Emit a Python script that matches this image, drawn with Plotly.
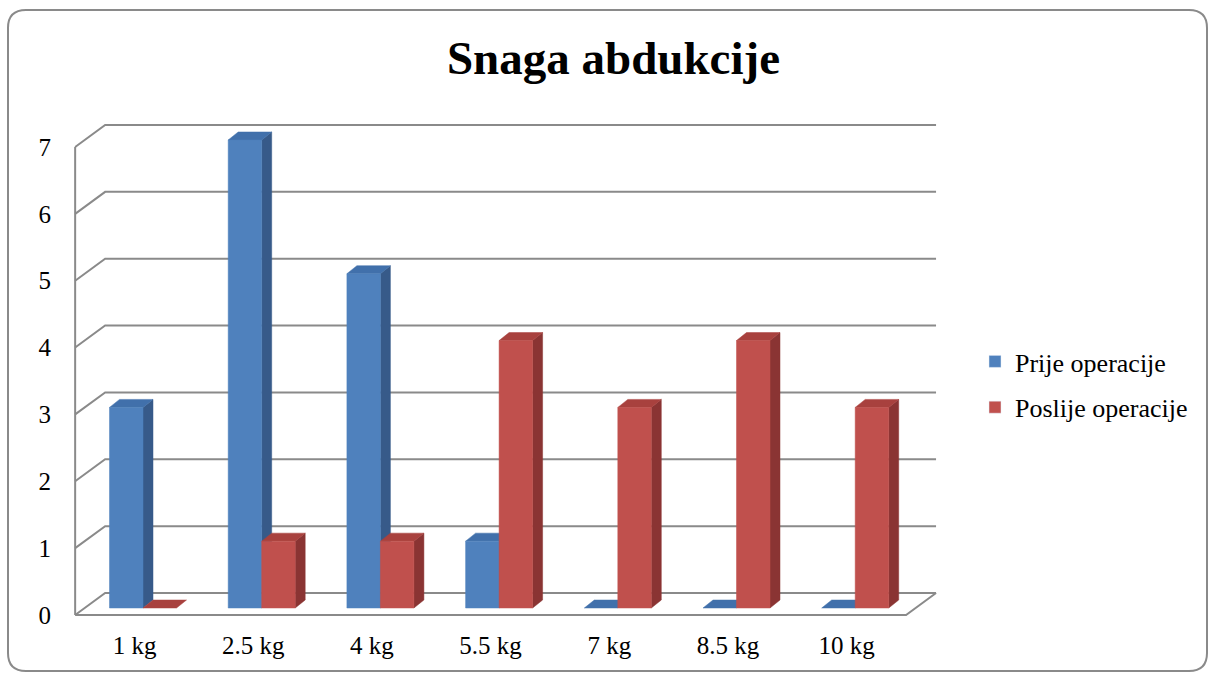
import plotly.graph_objects as go

# ---------------- data ----------------
categories = ["1 kg", "2.5 kg", "4 kg", "5.5 kg", "7 kg", "8.5 kg", "10 kg"]
prije = [3, 7, 5, 1, 0, 0, 0]
poslije = [0, 1, 1, 4, 3, 4, 3]
y_ticks = [0, 1, 2, 3, 4, 5, 6, 7]
series_names = ["Prije operacije", "Poslije operacije"]

# ---------------- geometry (pixels) ----------------
W, H = 1210, 677
ML, MR, MT, MB = 60, 265, 100, 57
X0_PX = 134.5       # pixel x of the first category on the front plane
PXC = 118.7         # pixels per category step
Y0_PX = 615         # pixel y of value 0 on the front plane
PXU = 66.86         # pixels per value unit

plot_w = W - ML - MR
plot_h = H - MT - MB
x_range = [(ML - X0_PX) / PXC, (W - MR - X0_PX) / PXC]
y_range = [(Y0_PX - (H - MB)) / PXU, (Y0_PX - MT) / PXU]


def ux(px):
    return px / PXC


def uy(px):  # pixels upward -> value units
    return px / PXU


# wall depth (px right, px up)
WALL_DX, WALL_DY = ux(30), uy(22)
# bar plane offsets
F_DX, F_DY = ux(8.5), uy(7)
B_DX, B_DY = ux(18.5), uy(15)
BAR_W = ux(33.5)
x_left_wall = -0.5
x_right_wall = len(categories) - 0.5

GRID = "#8a8a8a"
colors = {
    0: dict(front="#4F81BD", side="#375A89", top="#4170AB"),
    1: dict(front="#C0504D", side="#8A3433", top="#A8413E"),
}

fig = go.Figure()

# ---------------- walls / grid ----------------
wx, wy = [], []
top_val = y_ticks[-1]
wx += [x_left_wall, x_left_wall, None]
wy += [0, top_val, None]
for v in y_ticks:
    wx += [x_left_wall, x_left_wall + WALL_DX, x_right_wall + WALL_DX, None]
    wy += [v, v + WALL_DY, v + WALL_DY, None]
wx += [x_left_wall, x_right_wall, x_right_wall + WALL_DX, None]
wy += [0, 0, WALL_DY, None]
fig.add_trace(go.Scatter(x=wx, y=wy, mode="lines", line=dict(color=GRID, width=2),
                         hoverinfo="skip", showlegend=False))

# ---------------- 3D bars ----------------
for s, vals in enumerate([prije, poslije]):
    fx, fy, sx, sy, tx, ty = [], [], [], [], [], []
    ddx, ddy = B_DX - F_DX, B_DY - F_DY
    for i, v in enumerate(vals):
        xl = i + F_DX + (s - 1) * BAR_W
        xr = xl + BAR_W
        y0 = F_DY
        y1 = F_DY + v
        if v > 0:
            fx += [xl, xr, xr, xl, xl, None]
            fy += [y0, y0, y1, y1, y0, None]
            sx += [xr, xr + ddx, xr + ddx, xr, xr, None]
            sy += [y0, y0 + ddy, y1 + ddy, y1, y0, None]
        tx += [xl, xr, xr + ddx, xl + ddx, xl, None]
        ty += [y1, y1, y1 + ddy, y1 + ddy, y1, None]
    c = colors[s]
    for px_, py_, col in [(sx, sy, c["side"]), (tx, ty, c["top"]), (fx, fy, c["front"])]:
        fig.add_trace(go.Scatter(x=px_, y=py_, mode="lines", fill="toself",
                                 fillcolor=col, line=dict(color=col, width=0.5),
                                 hoverinfo="skip", showlegend=False))

# legend entries
for s, name in enumerate(series_names):
    fig.add_trace(go.Bar(x=[None], y=[None], name=name, legendgroup=name,
                         marker=dict(color=colors[s]["front"])))

# ---------------- border ----------------
def px2paper(px, py):
    return (px - ML) / plot_w, ((H - MB) - py) / plot_h

bx0, by0, bx1, by1, r = 8, 10, 1207, 671, 18
def P(px, py):
    a, b = px2paper(px, py)
    return f"{a:.5f},{b:.5f}"
path = (f"M {P(bx0 + r, by0)} L {P(bx1 - r, by0)} Q {P(bx1, by0)} {P(bx1, by0 + r)} "
        f"L {P(bx1, by1 - r)} Q {P(bx1, by1)} {P(bx1 - r, by1)} "
        f"L {P(bx0 + r, by1)} Q {P(bx0, by1)} {P(bx0, by1 - r)} "
        f"L {P(bx0, by0 + r)} Q {P(bx0, by0)} {P(bx0 + r, by0)} Z")
fig.add_shape(type="path", path=path, xref="paper", yref="paper",
              line=dict(color="#8a8a8a", width=2), layer="below")

SERIF = "Liberation Serif"
lx, ly = px2paper(975, 338)
fig.update_layout(
    width=W, height=H,
    margin=dict(l=ML, r=MR, t=MT, b=MB, autoexpand=False),
    paper_bgcolor="white", plot_bgcolor="white",
    title=dict(text="<b>Snaga abdukcije</b>", x=613.5 / W, xanchor="center",
               y=1 - 58 / H, yanchor="middle", yref="container",
               font=dict(family=SERIF, size=47, color="black")),
    font=dict(family=SERIF, color="black"),
    xaxis=dict(range=x_range, tickmode="array", tickvals=list(range(len(categories))),
               ticktext=categories, showgrid=False, zeroline=False, showline=False,
               ticks="", tickfont=dict(family=SERIF, size=25), ticklabelstandoff=8,
               fixedrange=True),
    yaxis=dict(range=y_range, tickmode="array", tickvals=y_ticks,
               ticktext=[str(v) for v in y_ticks], showgrid=False, zeroline=False,
               showline=False, ticks="", tickfont=dict(family=SERIF, size=25),
               ticklabelstandoff=8, fixedrange=True),
    legend=dict(x=lx, y=ly, xanchor="left", yanchor="top",
                font=dict(family=SERIF, size=26),
                traceorder="grouped", tracegroupgap=9, bgcolor="rgba(0,0,0,0)"),
    showlegend=True,
)

fig.write_html("out.html", config={"displayModeBar": False},
               post_script="document.body.style.margin='0';")
